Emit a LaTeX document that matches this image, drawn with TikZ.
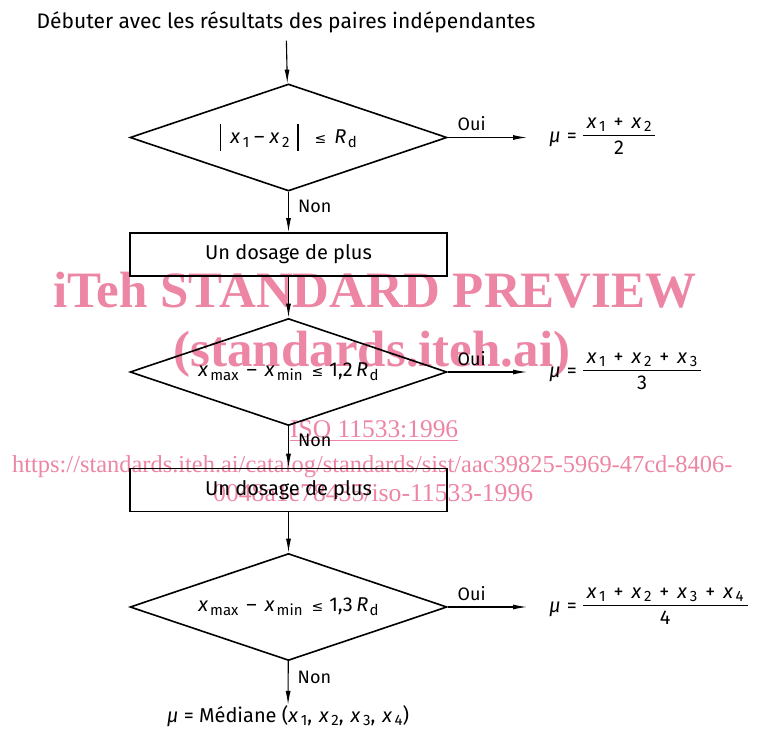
\documentclass[tikz,border=0pt]{standalone}
\usepackage{fontspec}
\usepackage{graphicx}
\setmainfont{Fira Sans}
\newfontfamily\wmfont{Liberation Serif}
\newfontfamily\symfont{DejaVu Sans}
\usetikzlibrary{shapes.geometric,arrows.meta,calc}
\definecolor{wm}{RGB}{236,134,164}
\newcommand\subsz{\fontsize{15}{15}\selectfont}
\newcommand\vx[1]{\textit{x}\kern2.5pt\raisebox{-0.3ex}{\subsz #1}}
\newcommand\vsub[2]{\textit{#1}\kern2pt\raisebox{-0.35ex}{\subsz #2}}
\newcommand\vbar{\rule[-7pt]{1.3pt}{27pt}}
\newcommand\lesym{{\symfont\fontsize{14}{14}\selectfont ≤}}
\newcommand\Rd{\textit{R}\kern1.5pt\raisebox{-0.35ex}{\subsz d}}
\newcommand\pl{\hspace{8pt}+\hspace{8pt}}
\newcommand\frc[2]{\begin{tabular}{@{\hspace{4pt}}c@{\hspace{4pt}}}#1\\[0pt]\hline\rule{0pt}{19pt}#2\end{tabular}}
\setlength\arrayrulewidth{1pt}
\begin{document}
\begin{tikzpicture}[x=1pt,y=-1pt,
  every node/.style={inner sep=0pt, font=\fontsize{20}{22}\selectfont},
  decision/.style={draw, diamond, line width=1.6pt, minimum width=317pt, minimum height=107pt, aspect=3},
  stepbox/.style={draw, rectangle, line width=1.6pt, minimum width=317pt, minimum height=43pt},
  conn/.style={line width=1.1pt, -{Latex[length=14pt,width=5pt]}},
  lab/.style={font=\fontsize{18}{20}\selectfont},
  wmark/.style={text=wm}]
\useasboundingbox (0,0) rectangle (760,730);
% watermark
\node[wmark, anchor=base, font=\wmfont\bfseries\fontsize{51}{51}\selectfont] (w1) at (375,307) {iTeh STANDARD PREVIEW};
\node[wmark, anchor=base, font=\wmfont\bfseries\fontsize{51}{51}\selectfont] (w2) at (372,366) {(standards.iteh.ai)};
\node[wmark, anchor=base west, font=\wmfont] (w3) at (290,437) {\resizebox{168pt}{!}{\underline{ISO 11533:1996}}};
\node[wmark, anchor=base west, font=\wmfont] (w4) at (12,472) {\resizebox{720pt}{!}{https://standards.iteh.ai/catalog/standards/sist/aac39825-5969-47cd-8406-}};
\node[wmark, anchor=base west, font=\wmfont] (w5) at (213,501) {\resizebox{320pt}{!}{0048a1e78435/iso-11533-1996}};
% diagram
\node[anchor=base, font=\fontsize{21}{23}\selectfont] (t) at (286,29) {Débuter avec les résultats des paires indépendantes};
\node[decision] (d1) at (288.5,137.5) {\vbar\hspace{9pt}\vx1\hspace{5pt}–\hspace{5pt}\vx2\hspace{8pt}\vbar\hspace{16pt}\lesym\hspace{8pt}\Rd};
\node[stepbox] (b1) at (288.5,254.5) {Un dosage de plus};
\node[decision] (d2) at (288.5,372) {\vsub{x}{max}\hspace{8pt}–\hspace{8pt}\vsub{x}{min}\hspace{9pt}\lesym\hspace{6pt}1,2\,\Rd};
\node[stepbox] (b2) at (288.5,490) {Un dosage de plus};
\node[decision] (d3) at (288.5,607) {\vsub{x}{max}\hspace{8pt}–\hspace{8pt}\vsub{x}{min}\hspace{9pt}\lesym\hspace{6pt}1,3\,\Rd};
\node[anchor=base] (res) at (288,722) {\textit{μ} = Médiane (\vx1,\hspace{7pt}\vx2,\hspace{7pt}\vx3,\hspace{7pt}\vx4)};
\coordinate (e1) at (527,137.5);
\coordinate (e2) at (527,372);
\coordinate (e3) at (527,607);
\node[anchor=west] (f1) at (549,137) {\textit{μ}\hspace{6pt}=\hspace{6pt}\frc{\vx1\pl\vx2}{2}};
\node[anchor=west] (f2) at (549,372) {\textit{μ}\hspace{6pt}=\hspace{6pt}\frc{\vx1\pl\vx2\pl\vx3}{3}};
\node[anchor=west] (f3) at (549,607) {\textit{μ}\hspace{6pt}=\hspace{6pt}\frc{\vx1\pl\vx2\pl\vx3\pl\vx4}{4}};
\draw[conn, shorten <=7pt] (t) -- (d1);
\draw[conn] (d1) -- node[lab, pos=0.36, right=9pt] {Non} (b1);
\draw[conn] (b1) -- (d2);
\draw[conn] (d2) -- node[lab, pos=0.35, right=9pt] {Non} (b2);
\draw[conn] (b2) -- (d3);
\draw[conn] (d3) -- node[lab, pos=0.38, right=9pt] {Non} (res);
\draw[conn] (d1) -- node[lab, pos=0.3, above=6pt] {Oui} (e1);
\draw[conn] (d2) -- node[lab, pos=0.3, above=6pt] {Oui} (e2);
\draw[conn] (d3) -- node[lab, pos=0.3, above=6pt] {Oui} (e3);
\end{tikzpicture}
\end{document}
